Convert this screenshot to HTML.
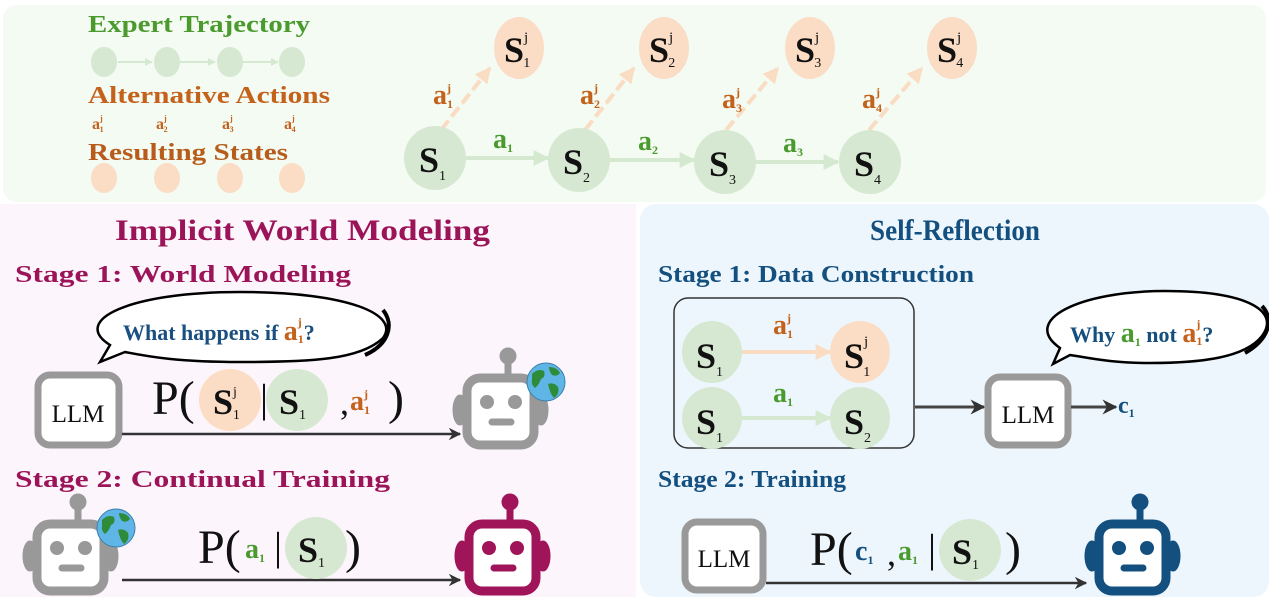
<!DOCTYPE html>
<html><head><meta charset="utf-8"><style>
html,body{margin:0;padding:0;background:#fff}
svg{display:block}
svg, svg text, svg tspan{font-family:"Liberation Serif","Times New Roman",Times,serif}
.b{font-weight:bold}
</style></head><body>
<svg width="1269" height="597" viewBox="0 0 1269 597" xmlns="http://www.w3.org/2000/svg" font-family="Liberation Serif, Times New Roman, serif">
<defs>
<marker id="ag" viewBox="0 0 10 10" refX="9" refY="5" markerWidth="4" markerHeight="4" orient="auto"><path d="M0,0L10,5L0,10z" fill="#d5e8d0"/></marker>
<marker id="ao" viewBox="0 0 10 10" refX="9" refY="5" markerWidth="4" markerHeight="4" orient="auto"><path d="M0,0L10,5L0,10z" fill="#f9dcc2"/></marker>
<marker id="ak" viewBox="0 0 10 10" refX="9" refY="5" markerWidth="5" markerHeight="6" orient="auto"><path d="M0,0L10,5L0,10L3,5z" fill="#333"/></marker>
<g id="robot">
<circle cx="45" cy="-18" r="8"/>
<rect x="42" y="-12" width="6" height="14"/>
<ellipse cx="-3" cy="36" rx="7" ry="15"/>
<ellipse cx="78" cy="36" rx="7" ry="15"/>
<rect x="4" y="4" width="67" height="67" rx="13" fill="#fff" stroke-width="9" stroke="inherit"/>
<circle cx="24" cy="28" r="6.5"/>
<circle cx="52" cy="28" r="6.5"/>
<rect x="26" y="45" width="25" height="6" rx="3"/>
</g>
<g id="globe">
<circle r="19" fill="#5fb6e6" stroke="#3b7fa8" stroke-width="1"/>
<path d="M-14,-8 q6,-6 12,-3 q2,6 -3,8 q-2,6 -6,9 q-4,-3 -3,-8 z M3,-15 q8,0 11,6 q-3,4 -8,2 q-3,-4 -3,-8 z M2,2 q6,-2 10,3 q2,7 -4,11 q-4,-4 -6,-14z" fill="#2e8b3a"/>
</g>
</defs>

<rect x="3" y="5" width="1263" height="197" rx="14" fill="#f3fbf2"/>
<rect x="0" y="204" width="636" height="393" fill="#fdf5fc"/>
<rect x="640" y="204" width="629" height="393" rx="16" fill="#eef6fd"/>

<text x="88" y="32" class="b" font-size="24" fill="#4a9a2e" textLength="222" lengthAdjust="spacingAndGlyphs">Expert Trajectory</text>
<g stroke="#d5e8d0" stroke-width="2" marker-end="url(#ag)"><line x1="118" y1="62" x2="152" y2="62"/><line x1="180" y1="62" x2="215" y2="62"/><line x1="242" y1="62" x2="278" y2="62"/></g>
<g fill="#d6e8d2"><ellipse cx="104" cy="62" rx="13" ry="15"/><ellipse cx="167" cy="62" rx="13" ry="15"/><ellipse cx="230" cy="62" rx="13" ry="15"/><ellipse cx="292" cy="62" rx="13" ry="15"/></g>
<text x="88" y="103" class="b" font-size="24" fill="#c4621c" textLength="242" lengthAdjust="spacingAndGlyphs">Alternative Actions</text>
<g class="b" font-size="16" fill="#c4621c">
<text x="92" y="129">a<tspan font-size="8" dy="-8">j</tspan><tspan font-size="8" dx="-3" dy="11">1</tspan></text>
<text x="156" y="129">a<tspan font-size="8" dy="-8">j</tspan><tspan font-size="8" dx="-3" dy="11">2</tspan></text>
<text x="222" y="129">a<tspan font-size="8" dy="-8">j</tspan><tspan font-size="8" dx="-3" dy="11">3</tspan></text>
<text x="284" y="129">a<tspan font-size="8" dy="-8">j</tspan><tspan font-size="8" dx="-3" dy="11">4</tspan></text>
</g>
<text x="88" y="160" class="b" font-size="24" fill="#b85c1c" textLength="200" lengthAdjust="spacingAndGlyphs">Resulting States</text>
<g fill="#fbdcc4"><ellipse cx="104" cy="178" rx="13" ry="15"/><ellipse cx="167" cy="178" rx="13" ry="15"/><ellipse cx="230" cy="178" rx="13" ry="15"/><ellipse cx="292" cy="178" rx="13" ry="15"/></g>

<g stroke="#d5e8d0" stroke-width="4" marker-end="url(#ag)">
<line x1="466" y1="158" x2="548" y2="158"/><line x1="609" y1="160" x2="694" y2="160"/><line x1="755" y1="162" x2="838" y2="162"/>
</g>
<g stroke="#f9dcc2" stroke-width="4" stroke-dasharray="12,5" marker-end="url(#ao)">
<line x1="441" y1="130" x2="490" y2="68"/><line x1="585" y1="130" x2="634" y2="68"/><line x1="726" y1="130" x2="778" y2="68"/><line x1="869" y1="130" x2="922" y2="68"/>
</g>
<g fill="#d6e8d2"><ellipse cx="435" cy="158" rx="31" ry="32"/><ellipse cx="579" cy="160" rx="31" ry="32"/><ellipse cx="725" cy="162" rx="31" ry="32"/><ellipse cx="870" cy="162" rx="31" ry="32"/></g>
<g fill="#fbdcc4"><ellipse cx="519" cy="48" rx="25" ry="31"/><ellipse cx="664" cy="48" rx="25" ry="31"/><ellipse cx="810" cy="48" rx="25" ry="31"/><ellipse cx="952" cy="48" rx="25" ry="31"/></g>
<g class="b" font-size="36" fill="#111">
<text x="419" y="172">S<tspan font-size="14" dy="8" font-weight="normal">1</tspan></text>
<text x="563" y="174">S<tspan font-size="14" dy="8" font-weight="normal">2</tspan></text>
<text x="709" y="176">S<tspan font-size="14" dy="8" font-weight="normal">3</tspan></text>
<text x="854" y="176">S<tspan font-size="14" dy="8" font-weight="normal">4</tspan></text>
<text x="504" y="62">S<tspan font-size="15" dy="-20" font-weight="normal">j</tspan><tspan font-size="14" dx="-5" dy="25" font-weight="normal">1</tspan></text>
<text x="649" y="62">S<tspan font-size="15" dy="-20" font-weight="normal">j</tspan><tspan font-size="14" dx="-5" dy="25" font-weight="normal">2</tspan></text>
<text x="795" y="62">S<tspan font-size="15" dy="-20" font-weight="normal">j</tspan><tspan font-size="14" dx="-5" dy="25" font-weight="normal">3</tspan></text>
<text x="937" y="62">S<tspan font-size="15" dy="-20" font-weight="normal">j</tspan><tspan font-size="14" dx="-5" dy="25" font-weight="normal">4</tspan></text>
</g>
<g class="b" font-size="28" fill="#4a9a2e">
<text x="493" y="148">a<tspan font-size="12" dy="4">1</tspan></text>
<text x="638" y="150">a<tspan font-size="12" dy="4">2</tspan></text>
<text x="783" y="152">a<tspan font-size="12" dy="4">3</tspan></text>
</g>
<g class="b" font-size="28" fill="#c4621c">
<text x="433" y="104">a<tspan font-size="12" dy="-12">j</tspan><tspan font-size="12" dx="-4" dy="16">1</tspan></text>
<text x="580" y="104">a<tspan font-size="12" dy="-12">j</tspan><tspan font-size="12" dx="-4" dy="16">2</tspan></text>
<text x="722" y="108">a<tspan font-size="12" dy="-12">j</tspan><tspan font-size="12" dx="-4" dy="16">3</tspan></text>
<text x="862" y="108">a<tspan font-size="12" dy="-12">j</tspan><tspan font-size="12" dx="-4" dy="16">4</tspan></text>
</g>

<text x="115" y="240" class="b" font-size="30" fill="#9b1458" textLength="375" lengthAdjust="spacingAndGlyphs">Implicit World Modeling</text>
<text x="15" y="282" class="b" font-size="24" fill="#9b1458" textLength="336" lengthAdjust="spacingAndGlyphs">Stage 1: World Modeling</text>
<path d="M100,362 L110,345 C70,320 130,292 240,292 C350,292 400,315 383,338 C360,360 310,362 240,362 C180,362 150,357 125,352 Z" fill="#fff" stroke="#000" stroke-width="2.5"/>
<path d="M383,310 C395,325 388,345 365,355" fill="none" stroke="#000" stroke-width="4"/>
<text x="123" y="340" class="b" font-size="22" fill="#1a4f80">What happens if <tspan fill="#c4621c" font-size="28">a</tspan><tspan fill="#c4621c" font-size="12" dy="-14">j</tspan><tspan fill="#c4621c" font-size="12" dx="-4" dy="17">1</tspan><tspan dy="-3">?</tspan></text>

<rect x="38" y="375" width="81" height="70" rx="12" fill="#fff" stroke="#999" stroke-width="7"/>
<text x="78" y="422" font-size="25" text-anchor="middle" fill="#111">LLM</text>
<line x1="122" y1="434" x2="460" y2="434" stroke="#333" stroke-width="2.5" marker-end="url(#ak)"/>
<ellipse cx="230" cy="400" rx="31" ry="31" fill="#fbdcc4"/>
<ellipse cx="297" cy="400" rx="31" ry="31" fill="#d6e8d2"/>
<text x="152" y="414" font-size="48" fill="#111">P(</text>
<text x="213" y="414" class="b" font-size="36" fill="#111">S<tspan font-size="14" dy="-18" font-weight="normal">j</tspan><tspan font-size="14" dx="-4" dy="23" font-weight="normal">1</tspan></text>
<text x="260" y="412" font-size="40" fill="#111">|</text>
<text x="279" y="414" class="b" font-size="36" fill="#111">S<tspan font-size="14" dy="5" font-weight="normal">1</tspan></text>
<text x="340" y="414" font-size="36" fill="#111">,</text>
<text x="350" y="410" class="b" font-size="28" fill="#c4621c">a<tspan font-size="12" dy="-12">j</tspan><tspan font-size="12" dx="-4" dy="16">1</tspan></text>
<text x="388" y="414" font-size="48" fill="#111">)</text>
<use href="#robot" x="463" y="374" fill="#999" stroke="#999"/>
<use href="#globe" x="546" y="382"/>

<text x="15" y="487" class="b" font-size="24" fill="#9b1458" textLength="375" lengthAdjust="spacingAndGlyphs">Stage 2: Continual Training</text>
<use href="#robot" x="33" y="520" fill="#999" stroke="#999"/>
<use href="#globe" x="116" y="528"/>
<line x1="122" y1="580" x2="460" y2="580" stroke="#333" stroke-width="2.5" marker-end="url(#ak)"/>
<ellipse cx="316" cy="548" rx="31" ry="31" fill="#d6e8d2"/>
<text x="198" y="563" font-size="48" fill="#111">P(</text>
<text x="245" y="558" class="b" font-size="28" fill="#4a9a2e">a<tspan font-size="12" dy="4">1</tspan></text>
<text x="274" y="560" font-size="40" fill="#111">|</text>
<text x="298" y="562" class="b" font-size="36" fill="#111">S<tspan font-size="14" dy="5" font-weight="normal">1</tspan></text>
<text x="345" y="563" font-size="48" fill="#111">)</text>
<use href="#robot" x="465" y="520" fill="#a0145a" stroke="#a0145a"/>

<text x="870" y="240" class="b" font-size="30" fill="#134f7f" textLength="170" lengthAdjust="spacingAndGlyphs">Self-Reflection</text>
<text x="658" y="282" class="b" font-size="24" fill="#134f7f" textLength="316" lengthAdjust="spacingAndGlyphs">Stage 1: Data Construction</text>
<rect x="674" y="298" width="240" height="150" rx="14" fill="#eef6fd" stroke="#333" stroke-width="1.5"/>
<line x1="738" y1="352" x2="830" y2="352" stroke="#f9dcc2" stroke-width="4" marker-end="url(#ao)"/>
<line x1="738" y1="418" x2="830" y2="418" stroke="#d5e8d0" stroke-width="4" marker-end="url(#ag)"/>
<ellipse cx="712" cy="352" rx="30" ry="31" fill="#d6e8d2"/>
<ellipse cx="860" cy="352" rx="30" ry="31" fill="#fbdcc4"/>
<ellipse cx="712" cy="418" rx="30" ry="31" fill="#d6e8d2"/>
<ellipse cx="860" cy="418" rx="30" ry="31" fill="#d6e8d2"/>
<g class="b" font-size="36" fill="#111">
<text x="696" y="368">S<tspan font-size="14" dy="8" font-weight="normal">1</tspan></text>
<text x="844" y="368">S<tspan font-size="15" dy="-22" font-weight="normal">j</tspan><tspan font-size="14" dx="-5" dy="30" font-weight="normal">1</tspan></text>
<text x="696" y="434">S<tspan font-size="14" dy="8" font-weight="normal">1</tspan></text>
<text x="844" y="434">S<tspan font-size="14" dy="8" font-weight="normal">2</tspan></text>
</g>
<text x="773" y="334" class="b" font-size="28" fill="#c4621c">a<tspan font-size="12" dy="-12">j</tspan><tspan font-size="12" dx="-4" dy="16">1</tspan></text>
<text x="773" y="402" class="b" font-size="28" fill="#4a9a2e">a<tspan font-size="12" dy="4">1</tspan></text>
<line x1="915" y1="407" x2="984" y2="407" stroke="#444" stroke-width="3" marker-end="url(#ak)"/>
<rect x="988" y="377" width="80" height="68" rx="12" fill="#fff" stroke="#999" stroke-width="7"/>
<text x="1028" y="423" font-size="25" text-anchor="middle" fill="#111">LLM</text>
<line x1="1071" y1="407" x2="1116" y2="407" stroke="#444" stroke-width="3" marker-end="url(#ak)"/>
<text x="1118" y="413" class="b" font-size="24" fill="#134f7f">c<tspan font-size="12" dy="4">1</tspan></text>
<path d="M1053,364 L1060,348 C1020,320 1080,291 1165,291 C1250,291 1280,312 1262,336 C1245,358 1200,363 1150,363 C1110,363 1090,358 1070,355 Z" fill="#fff" stroke="#000" stroke-width="2.5"/>
<path d="M1262,306 C1275,320 1268,340 1245,353" fill="none" stroke="#000" stroke-width="4"/>
<text x="1070" y="342" class="b" font-size="22" fill="#134f7f">Why <tspan fill="#4a9a2e" font-size="28">a</tspan><tspan fill="#4a9a2e" font-size="12" dy="4">1</tspan><tspan dy="-4"> not </tspan><tspan fill="#c4621c" font-size="28">a</tspan><tspan fill="#c4621c" font-size="12" dy="-14">j</tspan><tspan fill="#c4621c" font-size="12" dx="-4" dy="17">1</tspan><tspan dy="-3">?</tspan></text>

<text x="658" y="487" class="b" font-size="24" fill="#134f7f" textLength="188" lengthAdjust="spacingAndGlyphs">Stage 2: Training</text>
<rect x="685" y="522" width="78" height="68" rx="12" fill="#fff" stroke="#999" stroke-width="7"/>
<text x="724" y="567" font-size="25" text-anchor="middle" fill="#111">LLM</text>
<line x1="766" y1="583" x2="1086" y2="583" stroke="#333" stroke-width="2.5" marker-end="url(#ak)"/>
<ellipse cx="970" cy="550" rx="31" ry="31" fill="#d6e8d2"/>
<text x="810" y="565" font-size="48" fill="#111">P(</text>
<text x="855" y="560" class="b" font-size="28" fill="#134f7f">c<tspan font-size="12" dy="4">1</tspan></text>
<text x="887" y="565" font-size="36" fill="#111">,</text>
<text x="898" y="560" class="b" font-size="28" fill="#4a9a2e">a<tspan font-size="12" dy="4">1</tspan></text>
<text x="928" y="562" font-size="40" fill="#111">|</text>
<text x="952" y="564" class="b" font-size="36" fill="#111">S<tspan font-size="14" dy="5" font-weight="normal">1</tspan></text>
<text x="1005" y="565" font-size="48" fill="#111">)</text>
<use href="#robot" x="1095" y="520" fill="#134f7f" stroke="#134f7f"/>
</svg>
</body></html>
